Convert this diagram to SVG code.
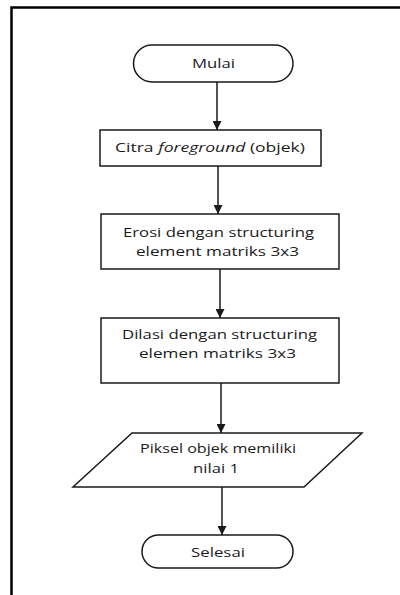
<svg xmlns="http://www.w3.org/2000/svg" width="400" height="595" viewBox="0 0 400 595">
  <style>
    .shape { fill: #ffffff; stroke: #1a1a1a; stroke-width: 1.5; }
    .label { font-family: "Open Sans", "Noto Sans", sans-serif; font-size: 13px; fill: #1a1a1a; text-anchor: middle; }
    .wire { stroke: #1a1a1a; stroke-width: 1.5; fill: none; marker-end: url(#head); }
    .frame { stroke: #000000; stroke-width: 2.5; fill: none; }
  </style>
  <defs>
    <marker id="head" viewBox="0 0 10 10" refX="10" refY="5" markerWidth="6" markerHeight="6" markerUnits="strokeWidth" orient="auto">
      <path d="M0,0 L10,5 L0,10 z" fill="#1a1a1a"/>
    </marker>
  </defs>
  <rect width="400" height="595" fill="#ffffff"/>

  <!-- page frame: top and left rules only -->
  <path class="frame" d="M400,7.5 H11.5 V595"/>

  <g id="connectors">
    <line class="wire" x1="217" y1="82" x2="217" y2="130"/>
    <line class="wire" x1="218" y1="166" x2="218" y2="214"/>
    <line class="wire" x1="220" y1="269" x2="220" y2="318"/>
    <line class="wire" x1="221" y1="383" x2="221" y2="433"/>
    <line class="wire" x1="222" y1="487" x2="222" y2="535"/>
  </g>

  <g id="start">
    <rect class="shape" x="133.5" y="45" width="159.5" height="37" rx="18.5" ry="18.5"/>
    <text class="label" x="213.5" y="68" textLength="43" lengthAdjust="spacingAndGlyphs">Mulai</text>
  </g>

  <g id="foreground">
    <rect class="shape" x="100" y="130" width="221" height="36"/>
    <text class="label" x="210" y="152" textLength="190" lengthAdjust="spacingAndGlyphs">Citra <tspan font-style="italic">foreground</tspan> (objek)</text>
  </g>

  <g id="erosion">
    <rect class="shape" x="101" y="214" width="238" height="55"/>
    <text class="label" x="218.5" y="237" textLength="191" lengthAdjust="spacingAndGlyphs">Erosi dengan structuring</text>
    <text class="label" x="217.5" y="256" textLength="163" lengthAdjust="spacingAndGlyphs">element matriks 3x3</text>
  </g>

  <g id="dilation">
    <rect class="shape" x="101" y="318" width="238" height="65"/>
    <text class="label" x="219.5" y="339" textLength="195" lengthAdjust="spacingAndGlyphs">Dilasi dengan structuring</text>
    <text class="label" x="217.5" y="358" textLength="157" lengthAdjust="spacingAndGlyphs">elemen matriks 3x3</text>
  </g>

  <g id="output">
    <polygon class="shape" points="132,433 362,433 304,487 73,487"/>
    <text class="label" x="218" y="453" textLength="156" lengthAdjust="spacingAndGlyphs">Piksel objek memiliki</text>
    <text class="label" x="216" y="473" textLength="46" lengthAdjust="spacingAndGlyphs">nilai 1</text>
  </g>

  <g id="end">
    <rect class="shape" x="142" y="535" width="151" height="33" rx="16.5" ry="16.5"/>
    <text class="label" x="218" y="557" textLength="54" lengthAdjust="spacingAndGlyphs">Selesai</text>
  </g>
</svg>
